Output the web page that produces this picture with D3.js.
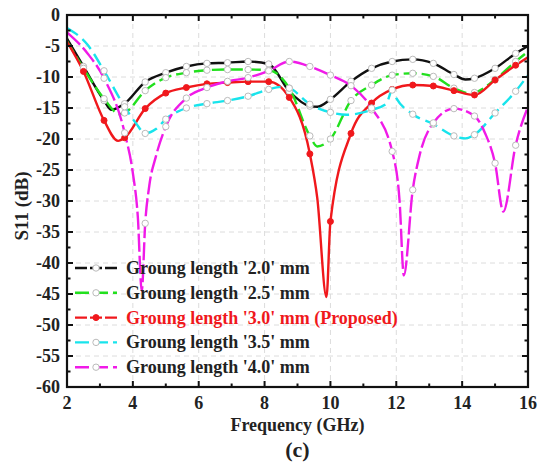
<!DOCTYPE html>
<html>
<head>
<meta charset="utf-8">
<script src="https://cdn.jsdelivr.net/npm/d3@7"></script>
<style>
  html, body { margin: 0; padding: 0; background: #fff; }
  svg { display: block; }
  text { font-family: "Liberation Serif", "Times New Roman", serif; font-weight: bold; }
</style>
</head>
<body>
<svg id="chart" width="543" height="473"></svg>
<script>
// S11 versus frequency for five ground lengths, [GHz, dB]
const len20 = [[2.0,-3.8],[2.5,-8.3],[3.125,-13.8],[3.35,-15.3],[3.75,-14.3],[4.375,-10.8],[5.0,-9.3],[5.625,-8.3],[6.25,-7.8],[6.875,-7.7],[7.5,-7.5],[8.125,-7.9],[8.75,-12.3],[9.375,-14.7],[9.6,-14.8],[10.0,-13.6],[10.625,-10.7],[11.25,-8.6],[11.875,-7.5],[12.5,-7.15],[13.125,-7.8],[13.75,-9.6],[14.1,-10.4],[14.375,-10.2],[15.0,-8.6],[15.625,-6.2],[16.0,-5.0]];
const len25 = [[2.0,-4.2],[2.5,-8.6],[3.125,-13.5],[3.6,-16.0],[3.75,-15.8],[4.375,-12.2],[5.0,-10.1],[5.625,-9.3],[6.25,-8.9],[6.875,-8.8],[7.5,-8.8],[8.125,-8.9],[8.75,-11.8],[9.375,-19.5],[9.6,-21.2],[10.0,-20.0],[10.625,-13.8],[11.25,-11.3],[11.875,-9.7],[12.5,-9.4],[13.125,-9.9],[13.75,-11.8],[14.2,-12.6],[14.375,-12.5],[15.0,-10.4],[15.625,-7.5],[16.0,-5.9]];
const len30 = [[2.0,-4.3],[2.5,-9.1],[3.125,-17.0],[3.55,-20.3],[3.75,-19.8],[4.375,-15.1],[5.0,-12.6],[5.625,-11.7],[6.25,-11.1],[6.875,-10.9],[7.5,-10.75],[8.125,-10.75],[8.75,-13.3],[9.375,-22.4],[9.6,-29.5],[9.88,-45.5],[10.0,-33.3],[10.625,-19.1],[11.25,-14.2],[11.875,-12.0],[12.5,-11.3],[13.125,-11.45],[13.75,-12.2],[14.375,-12.9],[15.0,-10.5],[15.625,-8.1],[16.0,-6.8]];
const len35 = [[2.0,-2.1],[2.625,-4.8],[3.125,-9.0],[3.75,-14.8],[4.1,-17.5],[4.375,-19.1],[4.7,-18.4],[5.0,-16.8],[5.625,-15.0],[6.25,-14.3],[6.875,-13.8],[7.5,-13.1],[8.125,-12.0],[8.5,-11.6],[8.75,-11.8],[9.375,-14.4],[10.0,-15.7],[10.5,-16.1],[11.25,-15.3],[11.7,-14.3],[11.875,-12.1],[12.0,-13.4],[12.5,-16.0],[13.125,-17.6],[13.75,-19.5],[14.1,-19.9],[14.375,-19.3],[15.0,-15.8],[15.625,-12.3],[16.0,-9.7]];
const len40 = [[2.0,-2.8],[2.625,-6.2],[3.125,-10.2],[3.75,-19.0],[4.0,-25.5],[4.15,-32.5],[4.27,-44.5],[4.375,-33.6],[4.5,-27.5],[4.7,-22.8],[5.0,-18.0],[5.625,-13.4],[6.25,-11.7],[6.875,-10.7],[7.5,-10.1],[8.125,-9.0],[8.75,-7.5],[9.375,-8.3],[10.0,-9.7],[10.625,-11.4],[11.25,-15.0],[11.875,-22.0],[12.1,-30.0],[12.23,-42.0],[12.5,-28.2],[12.7,-22.8],[13.125,-17.4],[13.75,-15.1],[14.375,-16.3],[14.7,-19.1],[15.0,-23.9],[15.25,-31.7],[15.625,-21.0],[16.0,-14.8]];

const seriesLabels = ["Groung length '2.0' mm", "Groung length '2.5' mm", "Groung length '3.0' mm (Proposed)", "Groung length '3.5' mm", "Groung length '4.0' mm"];
const xTicks = [2, 4, 6, 8, 10, 12, 14, 16];
const yTicks = [0, -5, -10, -15, -20, -25, -30, -35, -40, -45, -50, -55, -60];
const markerStep = 0.625; // symbols sit on every 0.625 GHz sample

const series = [
  { data: len20, label: seriesLabels[0], color: "#111111", dash: null,   marker: "open",   textColor: "#222" },
  { data: len25, label: seriesLabels[1], color: "#22e01e", dash: "13,5", marker: "open",   textColor: "#222" },
  { data: len30, label: seriesLabels[2], color: "#f0181c", dash: null,   marker: "filled", textColor: "#f0181c" },
  { data: len35, label: seriesLabels[3], color: "#18e4ec", dash: "13,6", marker: "open",   textColor: "#222" },
  { data: len40, label: seriesLabels[4], color: "#f01ae8", dash: "18,4", marker: "open",   textColor: "#222" }
];

const svg = d3.select("#chart");
const m = { left: 67, right: 15, top: 15, bottom: 86 };
const W = 543, H = 473;
const x = d3.scaleLinear().domain([2, 16]).range([m.left, W - m.right]);
const y = d3.scaleLinear().domain([-60, 0]).range([H - m.bottom, m.top]);

// light dashed grid at major ticks
const grid = svg.append("g").attr("stroke", "#dcdcdc").attr("stroke-width", 1).attr("stroke-dasharray", "5,4");
xTicks.slice(1, -1).forEach(t => grid.append("line").attr("x1", x(t)).attr("x2", x(t)).attr("y1", y(0)).attr("y2", y(-60)));
yTicks.slice(1, -1).forEach(t => grid.append("line").attr("x1", x(2)).attr("x2", x(16)).attr("y1", y(t)).attr("y2", y(t)));

// curves
const line = d3.line().x(d => x(d[0])).y(d => y(d[1])).curve(d3.curveMonotoneX);
const isMarker = f => Math.abs(f / markerStep - Math.round(f / markerStep)) < 1e-6;

series.forEach(s => {
  svg.append("path").datum(s.data)
    .attr("fill", "none").attr("stroke", s.color).attr("stroke-width", 2.4)
    .attr("stroke-dasharray", s.dash).attr("stroke-linejoin", "round")
    .attr("d", line);
});
series.forEach(s => {
  svg.append("g").selectAll("circle").data(s.data.filter(d => isMarker(d[0]) && d[0] < 16))
    .join("circle")
    .attr("cx", d => x(d[0])).attr("cy", d => y(d[1]))
    .attr("r", s.marker === "filled" ? 3 : 3.2)
    .attr("fill", s.marker === "filled" ? s.color : "#fff")
    .attr("stroke", s.marker === "filled" ? s.color : "#bbb")
    .attr("stroke-width", 1);
});

// frame with inward ticks on all four sides
const axisG = svg.append("g").attr("stroke", "#111").attr("stroke-width", 2);
const xMinor = d3.range(3, 16, 2);
const yMinor = d3.range(-57.5, 0, 5);
const tickLen = 6, minorLen = 3.5;
function inTicks(vals, len) {
  vals.forEach(t => {
    axisG.append("line").attr("x1", x(t)).attr("x2", x(t)).attr("y1", y(-60)).attr("y2", y(-60) - len);
    axisG.append("line").attr("x1", x(t)).attr("x2", x(t)).attr("y1", y(0)).attr("y2", y(0) + len);
  });
}
function inTicksY(vals, len) {
  vals.forEach(t => {
    axisG.append("line").attr("x1", x(2)).attr("x2", x(2) + len).attr("y1", y(t)).attr("y2", y(t));
    axisG.append("line").attr("x1", x(16)).attr("x2", x(16) - len).attr("y1", y(t)).attr("y2", y(t));
  });
}
inTicks(xTicks, tickLen); inTicks(xMinor, minorLen);
inTicksY(yTicks, tickLen); inTicksY(yMinor, minorLen);
svg.append("rect").attr("x", x(2)).attr("y", y(0)).attr("width", x(16) - x(2)).attr("height", y(-60) - y(0))
  .attr("fill", "none").attr("stroke", "#111").attr("stroke-width", 2.2);

// tick labels
svg.append("g").selectAll("text").data(xTicks).join("text")
  .attr("x", d => x(d)).attr("y", 409).attr("text-anchor", "middle")
  .attr("font-size", 18).attr("fill", "#222").text(d => d);
svg.append("g").selectAll("text").data(yTicks).join("text")
  .attr("x", x(2) - 7).attr("y", d => y(d) + 6).attr("text-anchor", "end")
  .attr("font-size", 18).attr("fill", "#222").text(d => d);

// axis titles and panel tag
svg.append("text").attr("x", (x(2) + x(16)) / 2).attr("y", 431).attr("text-anchor", "middle")
  .attr("font-size", 18).attr("fill", "#222").text("Frequency (GHz)");
svg.append("text").attr("transform", `translate(28,206) rotate(-90)`).attr("text-anchor", "middle")
  .attr("font-size", 19).attr("fill", "#222").text("S11 (dB)");
svg.append("text").attr("x", (x(2) + x(16)) / 2).attr("y", 457).attr("text-anchor", "middle")
  .attr("font-size", 22).attr("fill", "#222").text("(c)");

// legend
const lg = svg.append("g");
series.forEach((s, i) => {
  const ly = 268 + i * 24.8;
  lg.append("line").attr("x1", 75).attr("x2", 117).attr("y1", ly).attr("y2", ly)
    .attr("stroke", s.color).attr("stroke-width", 2.4).attr("stroke-dasharray", s.dash ? "14,5" : "12,3");
  lg.append("circle").attr("cx", 96).attr("cy", ly).attr("r", s.marker === "filled" ? 3 : 3.2)
    .attr("fill", s.marker === "filled" ? s.color : "#fff")
    .attr("stroke", s.marker === "filled" ? s.color : "#bbb").attr("stroke-width", 1);
  lg.append("text").attr("x", 126).attr("y", ly + 6).attr("font-size", 18)
    .attr("fill", s.textColor).text(s.label);
});
</script>
</body>
</html>
